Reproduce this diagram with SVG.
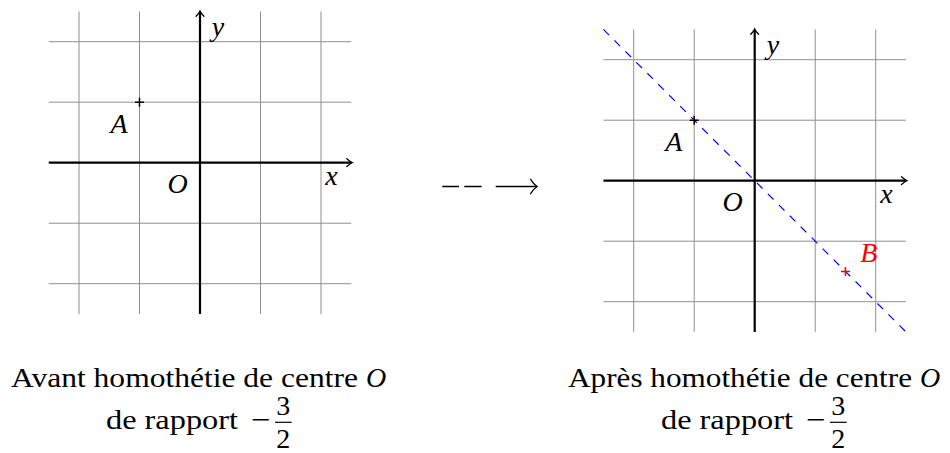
<svg xmlns="http://www.w3.org/2000/svg" width="950" height="453" viewBox="0 0 950 453">
<style>
  .grid { stroke: #8f8f8f; stroke-width: 1; fill: none; }
  .axis { stroke: #000; stroke-width: 2.2; fill: none; }
  .head { stroke: #000; stroke-width: 1.3; fill: none; stroke-linecap: round; }
  .mark { stroke-width: 1.5; fill: none; }
  .lbl { font-family: 'Liberation Serif', 'Times New Roman', serif; font-style: italic; font-size: 28px; fill: #000; text-anchor: middle; }
  .cap { font-family: 'Liberation Serif', 'Times New Roman', serif; font-size: 28px; fill: #000; }
  .it { font-style: italic; }
  .dash { stroke: #0000ff; stroke-width: 1.2; stroke-dasharray: 8 7.5; fill: none; }
  .conn { stroke: #000; stroke-width: 1.3; fill: none; }
</style>
<rect width="950" height="453" fill="#fff"/>

<g id="left-plot">
  <g class="grid">
    <line x1="79" y1="11.5" x2="79" y2="314"/>
    <line x1="139.5" y1="11.5" x2="139.5" y2="314"/>
    <line x1="260.5" y1="11.5" x2="260.5" y2="314"/>
    <line x1="321" y1="11.5" x2="321" y2="314"/>
    <line x1="48.75" y1="41.7" x2="351.25" y2="41.7"/>
    <line x1="48.75" y1="102.2" x2="351.25" y2="102.2"/>
    <line x1="48.75" y1="223.2" x2="351.25" y2="223.2"/>
    <line x1="48.75" y1="283.7" x2="351.25" y2="283.7"/>
  </g>
  <line class="axis" x1="48.75" y1="162.7" x2="351" y2="162.7"/>
  <path class="head" d="M346.8 158.8 Q350.3 161.9 352.2 162.7 Q350.3 163.5 346.8 166.6"/>
  <line class="axis" x1="200" y1="314" x2="200" y2="12"/>
  <path class="head" d="M196.1 16.3 Q199.2 12.8 200 10.9 Q200.8 12.8 203.9 16.3"/>
  <path class="mark" stroke="#000" d="M135 102.2 H144 M139.5 97.7 V106.7"/>
  <text class="lbl" x="119" y="133">A</text>
  <text class="lbl" x="177.5" y="192.5">O</text>
  <text class="lbl" x="331.5" y="185">x</text>
  <text class="lbl" x="218" y="35.5">y</text>
</g>

<g id="right-plot">
  <g class="grid">
    <line x1="633.7" y1="29.45" x2="633.7" y2="331.95"/>
    <line x1="694.2" y1="29.45" x2="694.2" y2="331.95"/>
    <line x1="815.2" y1="29.45" x2="815.2" y2="331.95"/>
    <line x1="875.7" y1="29.45" x2="875.7" y2="331.95"/>
    <line x1="603.45" y1="59.7" x2="905.95" y2="59.7"/>
    <line x1="603.45" y1="120.2" x2="905.95" y2="120.2"/>
    <line x1="603.45" y1="241.2" x2="905.95" y2="241.2"/>
    <line x1="603.45" y1="301.7" x2="905.95" y2="301.7"/>
  </g>
  <line class="axis" x1="603.45" y1="180.7" x2="905.7" y2="180.7"/>
  <path class="head" d="M901.5 176.8 Q905 179.9 906.9 180.7 Q905 181.5 901.5 184.6"/>
  <line class="axis" x1="754.7" y1="331.95" x2="754.7" y2="30"/>
  <path class="head" d="M750.8 34.3 Q753.9 30.8 754.7 28.9 Q755.5 30.8 758.6 34.3"/>
  <line class="dash" x1="603.45" y1="29.45" x2="905.95" y2="331.95"/>
  <path class="mark" stroke="#000" d="M689.7 120.2 H698.7 M694.2 115.7 V124.7"/>
  <path class="mark" stroke="#ff0000" d="M840.95 271.45 H849.95 M845.45 266.95 V275.95"/>
  <text class="lbl" x="673.7" y="151">A</text>
  <text class="lbl" x="732.5" y="210.8">O</text>
  <text class="lbl" x="886.5" y="203">x</text>
  <text class="lbl" x="773" y="53.5">y</text>
  <text class="lbl" x="868.8" y="261.7" style="fill:#ff0000">B</text>
</g>

<g id="connectors">
  <path class="conn" d="M442.3 186.5 H459 M464.3 186.5 H481.7 M495.7 186.5 H536"/>
  <path class="conn" d="M530.3 178.8 Q533.5 184.3 537.2 186.5 Q533.5 188.7 530.3 194.2"/>
</g>

<g id="caption-left">
  <text class="cap" x="11" y="386.7" textLength="347" lengthAdjust="spacingAndGlyphs">Avant homothétie de centre</text>
  <text class="cap it" x="366" y="386.7">O</text>
  <text class="cap" x="106" y="429" textLength="132" lengthAdjust="spacingAndGlyphs">de rapport</text>
  <text class="cap" x="251.3" y="429" textLength="19.5" lengthAdjust="spacingAndGlyphs">−</text>
  <text class="cap" x="283.3" y="415" text-anchor="middle">3</text>
  <line x1="275" y1="422.3" x2="291.7" y2="422.3" stroke="#000" stroke-width="1.2"/>
  <text class="cap" x="283.3" y="448.3" text-anchor="middle">2</text>
</g>

<g id="caption-right">
  <text class="cap" x="568" y="386.7" textLength="344" lengthAdjust="spacingAndGlyphs">Après homothétie de centre</text>
  <text class="cap it" x="920" y="386.7">O</text>
  <text class="cap" x="661" y="429" textLength="132" lengthAdjust="spacingAndGlyphs">de rapport</text>
  <text class="cap" x="806.3" y="429" textLength="19.5" lengthAdjust="spacingAndGlyphs">−</text>
  <text class="cap" x="838.3" y="415" text-anchor="middle">3</text>
  <line x1="830" y1="422.3" x2="846.7" y2="422.3" stroke="#000" stroke-width="1.2"/>
  <text class="cap" x="838.3" y="448.3" text-anchor="middle">2</text>
</g>
</svg>
